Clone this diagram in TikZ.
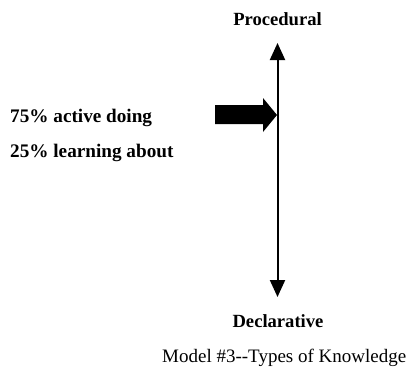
\documentclass[tikz,border=0pt]{standalone}
\usepackage{fontspec}
\setmainfont{Liberation Serif}
\usetikzlibrary{arrows.meta}
\begin{document}
\begin{tikzpicture}[x=1pt,y=-1pt,
  lbl/.style={inner sep=0pt,font=\fontsize{18.6}{20}\selectfont\bfseries},
  side/.style={inner sep=0pt,anchor=base west,font=\fontsize{19.2}{21}\selectfont\bfseries},
  captiontext/.style={inner sep=0pt,anchor=base west,font=\fontsize{19}{21}\selectfont},
  axis/.style={line width=2pt,{Triangle[width=15pt,length=17pt]}-{Triangle[width=15pt,length=17pt]}}]
  \useasboundingbox (0,0) rectangle (411,369);
  % axis end points and labels
  \node[lbl,anchor=base] (proc) at (277.5,25.5) {Procedural};
  \node[lbl,anchor=base] (decl) at (278,327) {Declarative};
  \coordinate (top) at (277.5,43);
  \coordinate (bot) at (277.5,297);
  \draw[axis] (top) -- (bot);
  % left-hand statements
  \node[side] (doing) at (10,122.8) {75\% active doing};
  \node[side] (about) at (10,157.5) {25\% learning about};
  % block arrow pointing at the axis
  \coordinate (hit) at (277,115);
  \fill (215,105) -- (263,105) -- (263,98) -- (hit) -- (263,132) -- (263,124) -- (215,124) -- cycle;
  % caption
  \node[captiontext] (caption) at (162,362.5) {Model \#3-{}-Types of Knowledge};
\end{tikzpicture}
\end{document}
